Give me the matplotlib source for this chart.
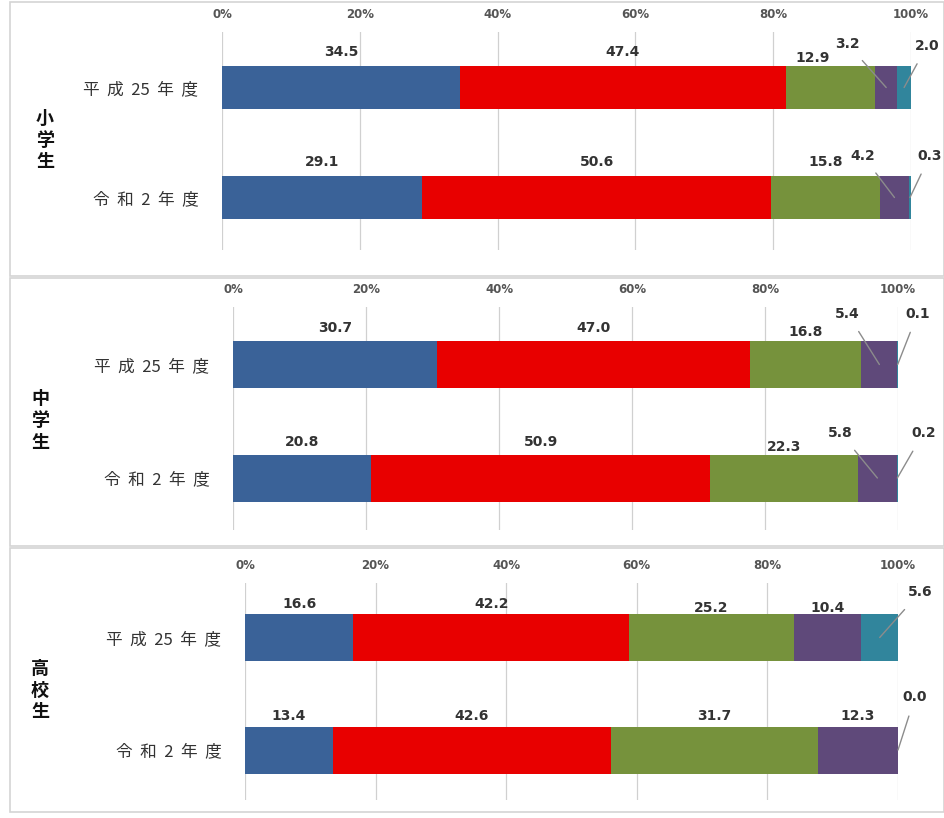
import matplotlib.pyplot as plt
from matplotlib.patches import Rectangle

plt.rcParams['font.family'] = ['Noto Sans CJK JP', 'DejaVu Sans']

groups = ['小学生', '中学生', '高校生']
years = [['平', '成', '25', '年', '度'], ['令', '和', '2', '年', '度']]
ticks = [0, 20, 40, 60, 80, 100]

# percentages per segment, one row per year
elementary = [[34.5, 47.4, 12.9, 3.2, 2.0],
              [29.1, 50.6, 15.8, 4.2, 0.3]]
junior_high = [[30.7, 47.0, 16.8, 5.4, 0.1],
               [20.8, 50.9, 22.3, 5.8, 0.2]]
high_school = [[16.6, 42.2, 25.2, 10.4, 5.6],
               [13.4, 42.6, 31.7, 12.3, 0.0]]
data = [elementary, junior_high, high_school]

colors = ['#3A6298', '#E80000', '#76923C', '#5F497A', '#31859C']

W, H = 944, 818
fig = plt.figure(figsize=(W / 100, H / 100), dpi=100)

# pixel layout of each panel: box, x of 0%/100%, grid top/bottom, bar centres, bar height, group label pos
panels = [
    dict(box=(10, 2, 944, 276), x0=222, x1=911, top=32, bottom=250, c=(87.5, 197.5), bh=43, lab=(45, 140), gap=14),
    dict(box=(10, 278, 944, 546), x0=233, x1=898, top=307, bottom=530, c=(364.5, 478), bh=47, lab=(40, 421), gap=13),
    dict(box=(10, 548, 944, 812), x0=245, x1=898, top=583, bottom=800, c=(637.5, 750), bh=47, lab=(40, 690), gap=10),
]

# leader-line labels: (panel, bar, segment) -> text offset in pixels from segment centre
leaders = {
    (0, 0, 3): (-39, 44), (0, 0, 4): (23, 42),
    (0, 1, 3): (-32, 42), (0, 1, 4): (20, 42),
    (1, 0, 3): (-32, 51), (1, 0, 4): (20, 51),
    (1, 1, 3): (-37, 45), (1, 1, 4): (26, 45),
    (2, 0, 4): (40, 45),
    (2, 1, 4): (17, 53),
}
# small nudges (dx, dy pixels) for labels sitting above the bar
nudges = {
    (0, 0, 2): (-18, -6),
    (1, 0, 2): (0, -4), (1, 1, 2): (0, -5),
    (2, 0, 2): (0, -4), (2, 0, 3): (0, -4),
}
num_font = dict(family='DejaVu Sans', fontsize=10, fontweight='bold', color='#333333')

for p, (name, rows, L) in enumerate(zip(groups, data, panels)):
    bx0, by0, bx1, by1 = L['box']
    fig.patches.append(Rectangle((bx0 / W, 1 - by1 / H), (bx1 - bx0) / W, (by1 - by0) / H,
                                 transform=fig.transFigure, fill=False,
                                 edgecolor='#d4d4d4', lw=1.2))
    ax = fig.add_axes([L['x0'] / W, 1 - L['bottom'] / H,
                       (L['x1'] - L['x0']) / W, (L['bottom'] - L['top']) / H])
    s = L['c'][1] - L['c'][0]
    ax.set_ylim(1 + (L['bottom'] - L['c'][1]) / s, -(L['c'][0] - L['top']) / s)
    ax.set_xlim(0, 100)
    bh = L['bh'] / s
    for i, row in enumerate(rows):
        left = 0
        for j, v in enumerate(row):
            ax.barh(i, v, left=left, height=bh, color=colors[j], edgecolor='none', zorder=3)
            cx = left + v / 2
            if (p, i, j) in leaders:
                dx, dy = leaders[(p, i, j)]
                ax.annotate(f'{v:.1f}', xy=(cx, i), xytext=(dx, dy), textcoords='offset pixels',
                            ha='center', va='center', zorder=5, **num_font,
                            arrowprops=dict(arrowstyle='-', color='#8c8c8c', lw=1.0,
                                            shrinkA=7, shrinkB=0))
            else:
                dx, dy = nudges.get((p, i, j), (0, 0))
                ax.annotate(f'{v:.1f}', xy=(cx, i), xytext=(dx, L['bh'] / 2 + L['gap'] + dy),
                            textcoords='offset pixels', ha='center', va='center',
                            zorder=5, **num_font)
            left += v
    ax.set_xticks(ticks)
    ax.set_xticklabels([f'{t}%' for t in ticks], family='DejaVu Sans', fontsize=8.5,
                       fontweight='bold', color='#555555')
    ax.xaxis.tick_top()
    ax.tick_params(axis='x', length=0, pad=8)
    ax.set_yticks([0, 1])
    ax.set_yticklabels(['  '.join(y) for y in years], fontsize=12, color='#333333')
    ax.tick_params(axis='y', length=0, pad=17)
    ax.grid(axis='x', color='#d0d0d0', lw=0.9, zorder=0)
    for sp in ax.spines.values():
        sp.set_visible(False)
    fig.text(L['lab'][0] / W, 1 - L['lab'][1] / H, '\n'.join(name), ha='center', va='center',
             fontsize=13, fontweight='bold', linespacing=1.2, color='#111111')

fig.savefig('out.png', dpi=100)
